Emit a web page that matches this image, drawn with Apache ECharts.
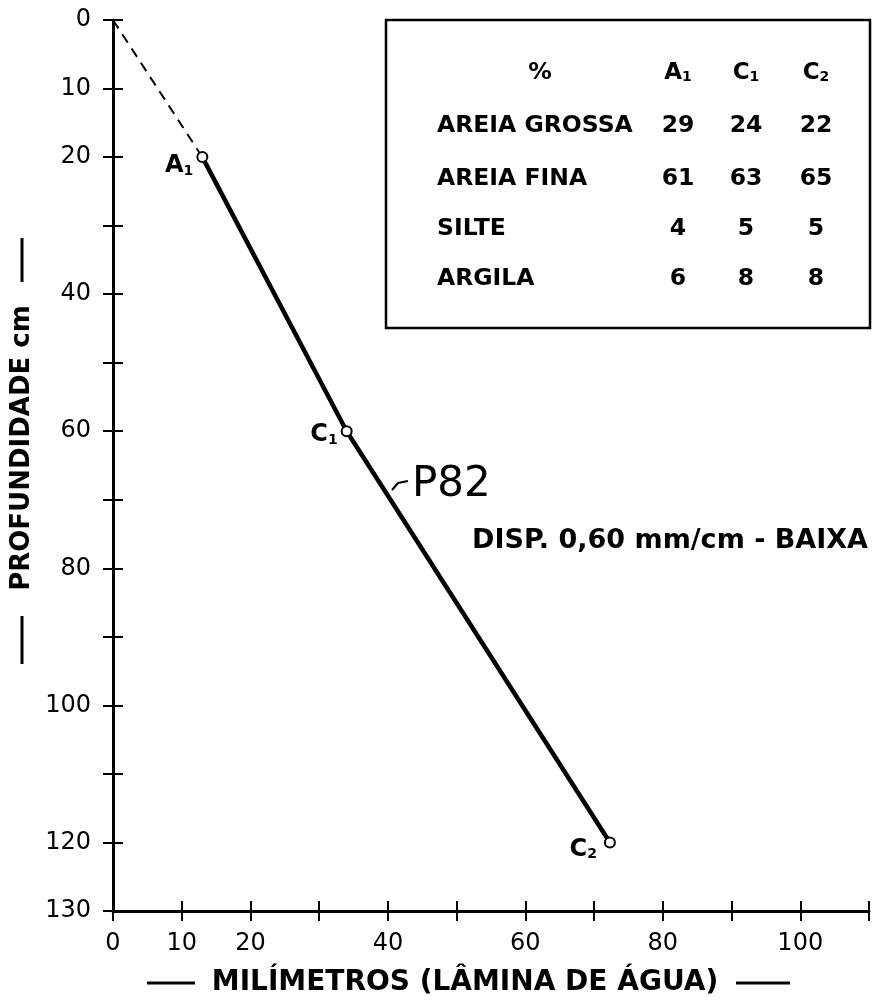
<!DOCTYPE html>
<html>
<head>
<meta charset="utf-8">
<script src="https://cdn.jsdelivr.net/npm/echarts@6/dist/echarts.min.js"></script>
<style>
html,body{margin:0;padding:0;background:#fff;}
#chart{width:872px;height:1003px;}
</style>
</head>
<body>
<div id="chart"></div>
<script>
// ---- data ----
const pointNames = ['A1', 'C1', 'C2'];
const waterMM = [13, 34, 72.3];        // x: milímetros (lâmina de água)
const depthCM = [20, 60, 120];         // y: profundidade cm
const surfacePoint = [0, 0];           // dashed extrapolation start
const xTickLabels = [0, 10, 20, 40, 60, 80, 100];
const yTickLabels = [0, 10, 20, 40, 60, 80, 100, 120, 130];
const tableRows = ['AREIA GROSSA', 'AREIA FINA', 'SILTE', 'ARGILA'];
const tableCols = ['A1', 'C1', 'C2'];
const valsA1 = [29, 61, 4, 6];
const valsC1 = [24, 63, 5, 8];
const valsC2 = [22, 65, 5, 8];
const annotTitle = 'P82';
const annotText = 'DISP. 0,60 mm/cm - BAIXA';
const xTitle = 'MILÍMETROS (LÂMINA DE ÁGUA)';
const yTitle = 'PROFUNDIDADE cm';

const FONT = 'DejaVu Sans';
const chart = echarts.init(document.getElementById('chart'));

function sub(name) { return '{m|' + name[0] + '}{s|' + name.slice(1) + '}'; }

const solidData = pointNames.map((n, i) => ({
  value: [waterMM[i], depthCM[i]],
  label: {
    show: true,
    formatter: sub(n),
    position: 'left',
    offset: i === 0 ? [0, 9] : (i === 1 ? [0, 4] : [-4, 7]),
    distance: 3,
    rich: {
      m: { fontFamily: FONT, fontWeight: 'bold', fontSize: 24, color: '#000' },
      s: { fontFamily: FONT, fontWeight: 'bold', fontSize: 14, color: '#000', verticalAlign: 'bottom' }
    }
  }
}));

const commonTickAxisY = {
  type: 'value', min: 0, max: 130, interval: 10, inverse: true, position: 'left'
};
const commonTickAxisX = {
  type: 'value', min: 0, max: 110, interval: 10, position: 'bottom'
};

// table graphics
const tX = 386, tY = 20, tW = 484, tH = 308;
const colX = [678, 746, 816];
const rowY = [126, 179, 229, 279];
const TFONT = 'bold 23.5px ' + FONT;
const tableGraphics = [
  { type: 'rect', shape: { x: tX, y: tY, width: tW, height: tH },
    style: { fill: '#fff', stroke: '#000', lineWidth: 2.5 } },
  { type: 'text', x: 540, y: 73, style: { text: '%', font: TFONT, fill: '#000', textAlign: 'center', textVerticalAlign: 'middle' } }
];
tableCols.forEach((c, j) => {
  tableGraphics.push({ type: 'text', x: colX[j], y: 73, style: {
    text: sub(c), textAlign: 'center', textVerticalAlign: 'middle',
    rich: {
      m: { fontFamily: FONT, fontWeight: 'bold', fontSize: 23, fill: '#000' },
      s: { fontFamily: FONT, fontWeight: 'bold', fontSize: 14, fill: '#000', verticalAlign: 'bottom' }
    } } });
});
const allVals = [valsA1, valsC1, valsC2];
tableRows.forEach((r, i) => {
  tableGraphics.push({ type: 'text', x: 437, y: rowY[i], style: { text: r, font: TFONT, fill: '#000', textAlign: 'left', textVerticalAlign: 'middle' } });
  allVals.forEach((vals, j) => {
    tableGraphics.push({ type: 'text', x: colX[j], y: rowY[i], style: { text: String(vals[i]), font: TFONT, fill: '#000', textAlign: 'center', textVerticalAlign: 'middle' } });
  });
});

const option = {
  backgroundColor: '#fff',
  animation: false,
  grid: { left: 113, top: 20, right: 0, bottom: 92, containLabel: false },
  xAxis: [
    Object.assign({}, commonTickAxisX, {
      axisLine: { onZero: false, lineStyle: { color: '#000', width: 3 } },
      axisTick: { show: true, length: 10, lineStyle: { color: '#000', width: 2 } },
      splitLine: { show: false },
      axisLabel: { margin: 21, color: '#000', fontFamily: FONT, fontSize: 24,
        formatter: v => xTickLabels.includes(v) ? String(v) : '' }
    }),
    Object.assign({}, commonTickAxisX, {
      axisLine: { show: false, onZero: false },
      axisTick: { show: true, inside: true, length: 10, lineStyle: { color: '#000', width: 2 } },
      splitLine: { show: false },
      axisLabel: { show: false }
    })
  ],
  yAxis: [
    Object.assign({}, commonTickAxisY, {
      axisLine: { onZero: false, lineStyle: { color: '#000', width: 3 } },
      axisTick: { show: true, length: 10, lineStyle: { color: '#000', width: 2 } },
      splitLine: { show: false },
      axisLabel: { margin: 22, color: '#000', fontFamily: FONT, fontSize: 24,
        formatter: v => yTickLabels.includes(v) ? String(v) : '' }
    }),
    Object.assign({}, commonTickAxisY, {
      axisLine: { show: false, onZero: false },
      axisTick: { show: true, inside: true, length: 10, lineStyle: { color: '#000', width: 2 } },
      splitLine: { show: false },
      axisLabel: { show: false }
    })
  ],
  series: [
    {
      type: 'line', xAxisIndex: 0, yAxisIndex: 0,
      data: [surfacePoint, [waterMM[0], depthCM[0]]],
      symbol: 'none',
      lineStyle: { color: '#000', width: 2, type: [10, 7] },
      z: 2
    },
    {
      type: 'line', xAxisIndex: 0, yAxisIndex: 0,
      data: solidData,
      symbol: 'circle', symbolSize: 10,
      itemStyle: { color: '#fff', borderColor: '#000', borderWidth: 2 },
      lineStyle: { color: '#000', width: 4.5 },
      z: 3
    }
  ],
  graphic: [
    // y title
    { type: 'line', shape: { x1: 22, y1: 238, x2: 22, y2: 282 }, style: { stroke: '#000', lineWidth: 3 } },
    { type: 'text', x: 22, y: 448, rotation: Math.PI / 2,
      style: { text: yTitle, font: 'bold 26px ' + FONT, fill: '#000', textAlign: 'center', textVerticalAlign: 'middle' } },
    { type: 'line', shape: { x1: 22, y1: 616, x2: 22, y2: 664 }, style: { stroke: '#000', lineWidth: 3 } },
    // x title
    { type: 'line', shape: { x1: 147, y1: 983, x2: 195, y2: 983 }, style: { stroke: '#000', lineWidth: 3 } },
    { type: 'text', x: 465, y: 983,
      style: { text: xTitle, font: 'bold 28px ' + FONT, fill: '#000', textAlign: 'center', textVerticalAlign: 'middle' } },
    { type: 'line', shape: { x1: 736, y1: 983, x2: 790, y2: 983 }, style: { stroke: '#000', lineWidth: 3 } },
    // annotation
    { type: 'polyline', shape: { points: [[392, 490], [398, 483], [408, 481]] }, style: { stroke: '#000', fill: null, lineWidth: 2 } },
    { type: 'text', x: 412, y: 485,
      style: { text: annotTitle, font: '42px ' + FONT, fill: '#000', textAlign: 'left', textVerticalAlign: 'middle' } },
    { type: 'text', x: 868, y: 541,
      style: { text: annotText, font: 'bold 27px ' + FONT, fill: '#000', textAlign: 'right', textVerticalAlign: 'middle' } }
  ].concat(tableGraphics)
};
chart.setOption(option);
</script>
</body>
</html>
